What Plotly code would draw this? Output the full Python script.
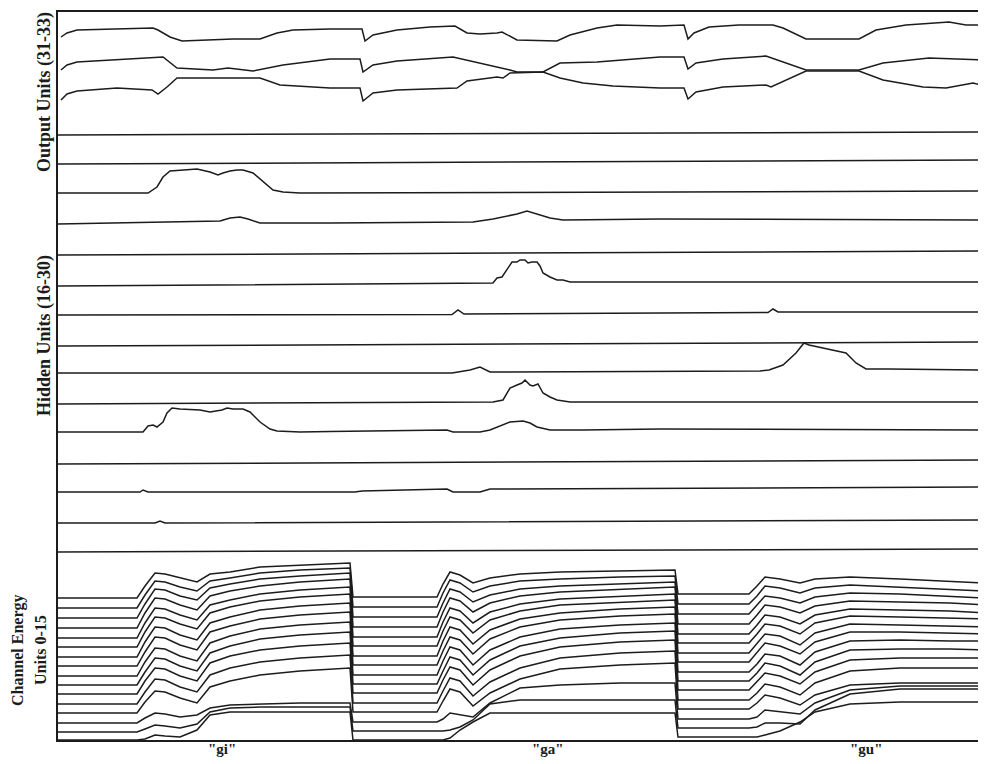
import plotly.graph_objects as go

# ---------------- geometry of the stacked display (plot units) ----------------
X_MIN, X_MAX = 58, 986          # time axis (frames, display units)
Y_MAX = 728                     # stacked display height

# ---------------- Output units (31-33): levels above output band floor ----------------
OUT_FLOOR = 605
out_t_a = [61,67,77,117,153,158,170,182,233,260,277,293,330,362,365,373,397,430,455,467,
           480,497,502,517,557,570,597,617,660,684,688,694,709,739,773,783,806,859,876,906,
           949,966,986]
out_v_a = [98,102,105,106,107,105,98,94,96,96,102,105,106,106,94,100,105,108,109,102,
           101,102,103,95,94,100,107,110,109,110,96,102,108,110,110,107,96,96,105,110,
           113,110,110]
out_t_b = [61,67,77,117,163,177,213,228,253,283,330,360,363,373,397,453,490,510,517,543,
           560,597,660,684,688,696,723,766,806,859,883,929,986]
out_v_b = [65,70,73,75,78,67,65,67,64,70,76,76,63,70,74,78,70,65,63,63,
           72,73,78,78,66,72,76,79,65,65,72,77,75]
out_t_c = [61,67,77,117,152,158,167,177,260,280,330,360,363,373,397,457,467,497,503,510,
           543,560,583,613,660,684,688,696,723,766,771,806,859,883,923,946,973,986]
out_v_c = [35,41,44,47,45,41,48,57,57,50,47,47,34,42,45,47,54,58,57,62,
           63,57,52,49,47,47,36,43,48,50,48,64,64,55,48,47,52,49]

# ---------------- Hidden units (16-30) ----------------
hidden_names = ["h30","h29","h28","h27","h26","h25","h24","h23","h22","h21","h20","h19","h18","h17","h16"]
hidden_base = [605,576,547,516,485,454,425,394,367,336,308,276,248,217,188]

h30_t = [58,986]; h30_a = [0,3]
h29_t = [58,986]; h29_a = [0,4]
h28_t = [58,148,157,163,170,180,197,210,218,223,230,237,243,253,263,273,283,300,986]
h28_a = [0,0,6,16,22,23,24,21,18,20,22,23,23,20,11,3,1,0,2]
h27_t = [58,200,220,230,240,248,260,330,473,493,503,517,527,537,550,563,660,986]
h27_a = [0,2,3,6,7,5,1,1,2,5,7,10,13,10,6,4,5,4]
h26_t = [58,986]; h26_a = [0,4]
h25_t = [58,330,493,497,502,512,517,520,525,528,532,537,540,543,550,557,563,570,583,660,986]
h25_a = [0,2,3,8,9,24,24,26,26,23,24,24,20,13,9,6,6,4,4,4,4]
h24_t = [58,452,458,464,768,773,778,986]
h24_a = [0,0.5,5,1,2.5,6,3,3]
h23_t = [58,986]; h23_a = [0,4]
h22_t = [58,452,470,480,490,760,769,783,796,804,809,823,829,846,856,866,889,986]
h22_a = [0,0,3,6,1,2,3,8,20,30,28,25,23,20,10,4,4,3]
h21_t = [58,330,493,503,510,517,522,525,530,533,538,543,550,557,563,570,660,986]
h21_a = [0,1,2,4,16,19,21,24,19,18,20,11,7,4,3,2,2,2]
h20_t = [58,143,148,153,157,163,167,172,180,200,210,217,222,227,233,243,250,260,270,277,
         300,330,447,453,480,490,497,503,510,523,530,537,550,583,660,986]
h20_a = [0,0,6,7,5,10,19,24,23,22,20,21,22,24,23,23,20,10,3,1,
         0,0.5,2,0,0,2,5,7,10,11,9,5,2,2,3,2]
h19_t = [58,986]; h19_a = [0,4]
h18_t = [58,140,143,148,355,362,447,453,480,490,986]
h18_a = [0,0,2,0,0,1,3,0,0,3,5]
h17_t = [58,155,160,165,986]; h17_a = [0,0,2,0,3]
h16_t = [58,986]; h16_a = [0,3]

# ---------------- Channel energy units 0-15 ----------------
ch_base = [0,8,17,27,36,46,55,64,74,83,93,102,112,122,132,142]   # ch0 .. ch15 floors
ch_t = [55,137,145,155,165,180,197,210,230,260,300,350,353,
        437,443,450,460,473,490,520,560,620,675,678,
        749,757,765,780,800,815,850,900,950,986]
ch15 = [0,0,12,25,24,20,16,24,26,31,33,35,1, 1,14,26,23,15,20,24,26,27,28,4, 4,12,21,19,15,19,21,19,17,15]
ch14 = [0,0,13,27,26,21,17,27,30,35,38,40,1, 1,15,28,25,16,22,27,29,31,32,4, 4,12,22,20,15,20,23,21,19,17]
ch13 = [0,0,14,29,28,22,18,30,34,39,42,45,1, 1,15,29,26,16,23,29,32,34,36,4, 4,13,22,20,15,21,25,24,22,20]
ch12 = [0,0,15,30,29,23,18,32,37,42,46,49,1, 1,16,30,27,16,25,32,36,39,41,4, 4,13,23,21,15,22,27,26,25,23]
ch11 = [0,0,15,30,29,23,18,33,38,44,48,51,1, 1,16,30,27,15,26,34,39,42,44,4, 4,13,23,21,14,23,29,28,27,25]
ch10 = [0,0,15,30,29,23,18,34,40,46,50,53,1, 1,16,30,27,14,27,36,42,45,47,4, 4,13,23,21,13,24,31,30,29,28]
ch09 = [0,0,15,30,29,22,17,34,40,47,51,54,1, 1,16,30,27,13,27,38,44,48,50,4, 4,13,23,21,12,24,33,32,31,30]
ch08 = [0,0,14,29,28,21,16,34,40,47,51,54,1, 1,15,29,26,12,27,39,46,50,52,4, 4,13,23,20,12,24,34,34,33,32]
ch07 = [0,0,14,28,27,20,15,33,40,47,51,54,1, 1,15,29,26,11,26,39,47,51,53,4, 4,12,22,20,11,24,35,36,35,35]
ch06 = [0,0,13,27,26,19,14,32,39,46,50,53,1, 1,14,28,25,10,25,39,47,52,54,4, 4,12,22,19,10,23,35,36,36,35]
ch05 = [0,0,13,26,25,18,13,31,38,44,48,51,1, 1,14,27,24,9,24,38,47,52,54,4, 4,12,21,18,10,22,34,36,36,36]
ch04 = [0,0,12,25,24,17,12,29,36,42,46,49,1, 1,13,26,23,8,22,36,46,51,53,4, 4,11,20,17,9,21,33,36,36,36]
ch03 = [0,0,11,22,21,15,10,26,32,38,42,45,1, 1,12,24,21,7,20,34,44,48,50,4, 4,10,18,15,8,18,28,30,30,30]
ch02 = [0,0,5,10,9,6,8,15,18,19,20,20,1, 1,4,10,8,6,20,35,38,40,40,4, 4,6,13,11,9,20,33,37,37,37]
ch01 = [0,0,3,7,6,4,8,20,24,25,25,25,1, 1,1,2,5,12,28,32,32,32,32,4, 4,5,9,9,8,22,38,43,43,43]
ch00 = [0,0,1,5,4,3,10,25,28,28,28,28,0, 0,0,2,10,18,27,27,27,27,27,3, 3,3,5,9,18,28,36,38,38,38]

seg_labels = ['"gi"', '"ga"', '"gu"']
seg_label_t = [222, 548, 866]

INK = "#1c1c1c"
LW = 1.5
fig = go.Figure()

def add(t, v, offset):
    fig.add_trace(go.Scatter(x=t, y=[offset + a for a in v], mode="lines",
                             line=dict(color=INK, width=LW), hoverinfo="skip",
                             showlegend=False))

for t, v in [(out_t_a, out_v_a), (out_t_b, out_v_b), (out_t_c, out_v_c)]:
    add(t, v, OUT_FLOOR)

hid = {"h30": (h30_t, h30_a), "h29": (h29_t, h29_a), "h28": (h28_t, h28_a), "h27": (h27_t, h27_a),
       "h26": (h26_t, h26_a), "h25": (h25_t, h25_a), "h24": (h24_t, h24_a), "h23": (h23_t, h23_a),
       "h22": (h22_t, h22_a), "h21": (h21_t, h21_a), "h20": (h20_t, h20_a), "h19": (h19_t, h19_a),
       "h18": (h18_t, h18_a), "h17": (h17_t, h17_a), "h16": (h16_t, h16_a)}
for name, base in zip(hidden_names, hidden_base):
    t, v = hid[name]
    add(t, v, base)

channels = [ch00, ch01, ch02, ch03, ch04, ch05, ch06, ch07, ch08, ch09, ch10, ch11, ch12, ch13, ch14, ch15]
for base, v in zip(ch_base, channels):
    add(ch_t, v, base)

# page body has an 8px margin: figure is drawn starting at (8, 8)
PAGE_OFF = 8
PLOT_L, PLOT_T, PLOT_B = 58, 12, 740

SERIF = "Liberation Serif"
ann = []
def px_x(px):
    return (px - X_MIN) / (X_MAX - X_MIN)
def px_y(py):
    return (PLOT_B - py) / Y_MAX

ann.append(dict(text="<b>Output Units (31-33)</b>", x=px_x(44), y=px_y(92), textangle=-90, size=18))
ann.append(dict(text="<b>Hidden Units (16-30)</b>", x=px_x(44), y=px_y(336), textangle=-90, size=18))
ann.append(dict(text="<b>Channel Energy</b>", x=px_x(18), y=px_y(650), textangle=-90, size=16))
ann.append(dict(text="<b>Units 0-15</b>", x=px_x(40), y=px_y(650), textangle=-90, size=16))
for lab, t in zip(seg_labels, seg_label_t):
    ann.append(dict(text="<b>" + lab + "</b>", x=px_x(t), y=px_y(749), textangle=0, size=15))
for a in ann:
    s = a.pop("size")
    a.update(xref="paper", yref="paper", showarrow=False, xanchor="center", yanchor="middle",
             font=dict(family=SERIF, size=s, color=INK))

W, H = 986 - PAGE_OFF, 764 - PAGE_OFF
fig.update_layout(
    width=W, height=H,
    margin=dict(l=PLOT_L - PAGE_OFF, r=0, t=PLOT_T - PAGE_OFF,
                b=H - (PLOT_T - PAGE_OFF) - Y_MAX),
    paper_bgcolor="white", plot_bgcolor="white",
    annotations=ann,
    xaxis=dict(range=[X_MIN, X_MAX], showgrid=False, zeroline=False, showticklabels=False,
               ticks="", showline=True, mirror=True, linecolor=INK, linewidth=1.5),
    yaxis=dict(range=[0, Y_MAX], showgrid=False, zeroline=False, showticklabels=False,
               ticks="", showline=True, mirror=False, linecolor=INK, linewidth=1.5),
)

fig.write_html("out.html")
